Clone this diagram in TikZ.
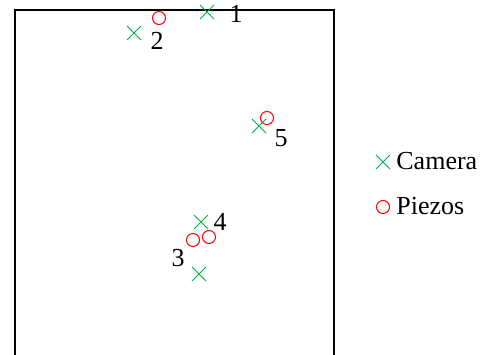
\documentclass[tikz,border=0pt]{standalone}
\usepackage{fontspec}
\setmainfont{Liberation Serif}
\usetikzlibrary{shapes.misc}
\definecolor{camgreen}{RGB}{0,176,80}
\begin{document}
\begin{tikzpicture}[x=0.5pt, y=-0.5pt,
        cam/.style={cross out, draw=camgreen, line width=0.5pt, minimum size=6.5pt, inner sep=0pt},
        piezo/.style={circle, draw=red, line width=0.5pt, minimum size=6.5pt, inner sep=0pt},
        num/.style={inner sep=0pt, font=\fontsize{13}{15}\selectfont}]
        \useasboundingbox (0,0) rectangle (487,354);

        % frame, open at the bottom
        \draw[line width=0.65pt] (15,360) -- (15,10) -- (334,10) -- (334,360);

        % camera positions
        \node[cam] (c1) at (207,12) {};
        \node[cam] (c2) at (134,33) {};
        \node[cam] (c3) at (199,274) {};
        \node[cam] (c4) at (201,222) {};
        \node[cam] (c5) at (259,126) {};

        % piezo positions
        \node[piezo] (p2) at (159,18) {};
        \node[piezo] (p3) at (193,240) {};
        \node[piezo] (p4) at (209,237) {};
        \node[piezo] (p5) at (267,118) {};

        % labels
        \node[num] (l1) at (236,14) {1};
        \node[num] (l2) at (157,41) {2};
        \node[num] (l3) at (178,258) {3};
        \node[num] (l4) at (220,222) {4};
        \node[num] (l5) at (281,138) {5};

        % legend
        \node[cam] (kc) at (383,162) {};
        \node[num, anchor=west] (kct) at (396,161) {Camera};
        \node[piezo] (kp) at (383,207) {};
        \node[num, anchor=west] (kpt) at (396,206) {Piezos};
\end{tikzpicture}
\end{document}
